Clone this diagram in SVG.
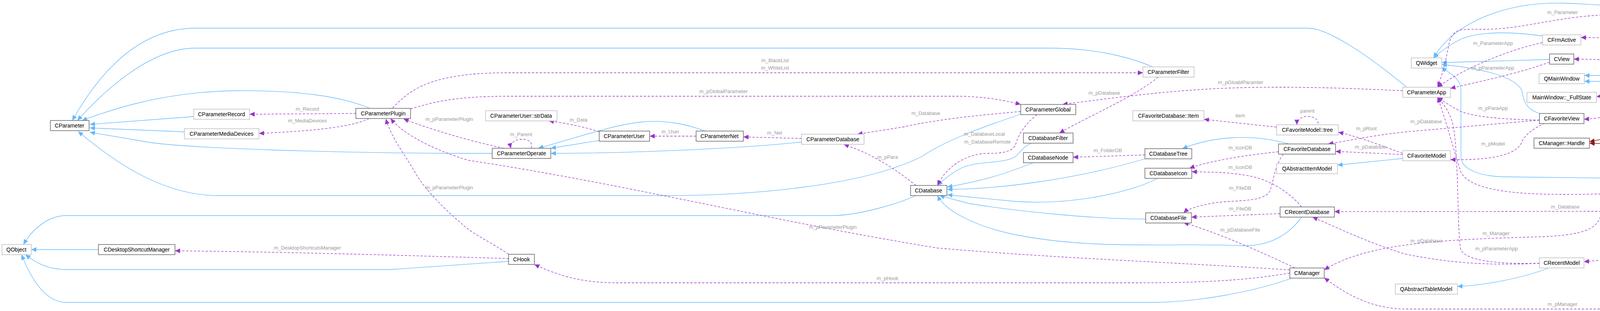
<svg xmlns="http://www.w3.org/2000/svg" width="4739" height="795" viewBox="0 0 4739 795">
<style>
.n rect{fill:#fff;stroke:#666;stroke-width:1.5}
.l rect{fill:#fff;stroke:#bfbfbf;stroke-width:1.5}
.m rect{fill:#999;stroke:#666;stroke-width:1.5}
text{font-family:"Liberation Sans",Arial,sans-serif;font-size:14px;text-anchor:middle;fill:#000}
.lb{fill:#9a9a9a;font-size:13px}
.inh{fill:none;stroke:#63b8ff;stroke-width:1.3;marker-end:url(#ab)}
.use{fill:none;stroke:#9a32cd;stroke-width:1.3;stroke-dasharray:6,4;marker-end:url(#ap)}
.red{fill:none;stroke:#8b1a1a;stroke-width:1.5;marker-end:url(#ar)}
</style>
<defs>
<marker id="ab" markerUnits="userSpaceOnUse" markerWidth="14" markerHeight="12" refX="13" refY="6" orient="auto"><path d="M0,0L13,6L0,12z" fill="#63b8ff"/></marker>
<marker id="ap" markerUnits="userSpaceOnUse" markerWidth="14" markerHeight="12" refX="13" refY="6" orient="auto"><path d="M0,0L13,6L0,12z" fill="#9a32cd"/></marker>
<marker id="ar" markerUnits="userSpaceOnUse" markerWidth="14" markerHeight="12" refX="13" refY="6" orient="auto"><path d="M0,0L13,6L0,12z" fill="#8b1a1a"/></marker>
</defs>
<rect width="4739" height="795" fill="#fff"/>
<g id="edges">
<path class="inh" d="M3600,222 C3500,140 3400,72 3349,72 L500,72 C330,72 230,230 185,308"/>
<path class="inh" d="M2951,171 C2890,145 2800,123 2690,123 L500,123 C380,123 260,240 198,308"/>
<path class="inh" d="M945,276 C880,250 780,230 600,232 C400,235 260,290 210,308"/>
<path class="inh" d="M496,298 L230,318"/>
<path class="inh" d="M472,337 L230,327"/>
<path class="inh" d="M1260,392 L1200,392 C900,392 450,380 360,360 L230,338"/>
<path class="inh" d="M2613,292 C2500,330 2420,360 2360,400 C2200,480 1900,500 1700,500 L560,500 C420,500 300,420 200,336"/>
<path class="inh" d="M2345,500 C2300,520 2200,551 2130,551 L170,551 C120,551 80,590 60,625"/>
<path class="inh" d="M252,638 L80,638"/>
<path class="inh" d="M1302,668 L1000,689 L170,689 C120,689 90,670 65,651"/>
<path class="inh" d="M3310,710 C3200,750 3050,773 2950,773 L170,773 C110,773 75,700 55,651"/>
<path class="inh" d="M1534,359 L1410,379"/>
<path class="inh" d="M1805,335 C1760,318 1700,305 1640,312 C1560,322 1500,345 1378,379"/>
<path class="inh" d="M2052,363 C1900,380 1600,392 1410,392"/>
<path class="inh" d="M2640,366 C2620,375 2615,385 2600,400 C2570,420 2500,410 2460,430 C2430,445 2410,465 2400,474"/>
<path class="inh" d="M2645,416 C2560,450 2500,465 2425,478"/>
<path class="inh" d="M2931,406 C2750,460 2550,484 2425,484"/>
<path class="inh" d="M2963,456 C2900,490 2750,525 2600,515 L2425,498"/>
<path class="inh" d="M2933,560 C2800,560 2600,540 2480,520 L2405,500"/>
<path class="inh" d="M3332,555 C3300,600 3250,630 3180,628 C3000,620 2800,640 2600,600 C2500,580 2420,540 2400,500"/>
<path class="inh" d="M3300,368 C3200,340 3100,350 3027,380"/>
<path class="inh" d="M3591,405 L3424,422"/>
<path class="inh" d="M3949,92 C3900,85 3800,75 3740,100 C3710,115 3690,130 3670,148"/>
<path class="inh" d="M3967,152 L3691,160"/>
<path class="inh" d="M3941,290 C3910,280 3900,260 3898,240 C3895,200 3800,175 3691,165"/>
<path class="inh" d="M4597,461 C4500,457 4300,455 4100,455 L3850,452 C3780,450 3740,430 3740,400 L3740,230 C3740,200 3710,185 3690,173"/>
<path class="inh" d="M4617,134 C4400,40 4200,15 4000,8 C3850,5 3720,60 3670,148"/>
<path class="inh" d="M4256,193 L4056,193"/>
<path class="inh" d="M4256,208 L4056,208"/>
<path class="inh" d="M3965,685 C3900,710 3800,730 3731,732"/>
<path class="red" d="M4302,213 C4260,300 4200,340 4069,362"/>
<path class="red" d="M4620,451 C4600,430 4550,410 4500,400 C4300,360 4150,370 4069,366"/>
<path class="use" d="M911,290 L639,292"/>
<path class="use" d="M945,303 C900,325 800,335 663,341"/>
<path class="use" d="M1005,276 C1050,230 1100,186 1300,186 L2926,186"/>
<path class="use" d="M1051,278 C1100,265 1150,246 1300,246 L2450,246 C2520,246 2580,258 2613,267"/>
<path class="use" d="M1290,379 C1200,360 1100,330 1033,304"/>
<path class="use" d="M3302,690 C3000,670 2700,660 2400,634 C2000,570 1600,470 1200,410 C1100,380 1030,340 1000,303"/>
<path class="use" d="M1302,650 C1260,620 1210,600 1180,570 C1120,520 1080,470 1068,450 C1040,400 1000,350 988,304"/>
<path class="use" d="M1360,379 C1365,362 1350,355 1335,356 C1315,357 1305,368 1308,379"/>
<path class="use" d="M1534,337 C1500,325 1450,315 1405,309"/>
<path class="use" d="M1782,348 L1663,348"/>
<path class="use" d="M2052,354 L1903,350"/>
<path class="use" d="M2613,285 C2500,295 2400,305 2310,325 L2195,343"/>
<path class="use" d="M2345,474 C2300,440 2250,400 2160,369"/>
<path class="use" d="M2655,293 C2620,320 2605,350 2600,370 C2590,390 2560,392 2530,392 C2470,392 2420,430 2400,474"/>
<path class="use" d="M2965,197 C2900,250 2800,290 2712,340"/>
<path class="use" d="M3591,232 C3450,225 3300,220 3150,225 C3000,230 2850,250 2720,267"/>
<path class="use" d="M2931,396 L2747,402"/>
<path class="use" d="M3273,388 C3200,395 3100,410 3045,430"/>
<path class="use" d="M3332,529 C3300,490 3250,460 3200,450 C3150,440 3100,440 3051,439"/>
<path class="use" d="M3285,394 C3260,430 3260,470 3250,490 C3230,520 3150,510 3100,520 C3060,528 3040,535 3030,544"/>
<path class="use" d="M3277,546 L3050,555"/>
<path class="use" d="M3315,685 C3200,630 3100,590 3030,569"/>
<path class="use" d="M3268,325 L3082,305"/>
<path class="use" d="M3374,316 C3378,300 3345,292 3330,302 C3322,307 3320,312 3320,319"/>
<path class="use" d="M3591,392 C3530,370 3480,350 3426,338"/>
<path class="use" d="M3591,395 L3419,387"/>
<path class="use" d="M3941,307 L3600,337 C3520,345 3450,360 3400,368"/>
<path class="use" d="M3941,307 C3850,305 3780,300 3740,285 C3710,270 3695,258 3680,249"/>
<path class="use" d="M3955,315 C3920,330 3900,350 3895,365 C3880,400 3800,410 3713,408"/>
<path class="use" d="M3949,109 C3850,130 3740,180 3680,223"/>
<path class="use" d="M3967,159 C3880,190 3780,210 3713,226"/>
<path class="use" d="M4305,188 C4290,130 4250,40 4130,38 C4000,38 3900,75 3800,75 C3740,75 3720,70 3710,110 C3700,160 3690,200 3680,222"/>
<path class="use" d="M4300,188 C4270,120 4200,95 4047,96"/>
<path class="use" d="M4280,188 C4220,160 4150,152 4029,151"/>
<path class="use" d="M4275,213 C4220,235 4150,240 4087,247"/>
<path class="use" d="M4290,213 C4250,270 4180,295 4055,305"/>
<path class="use" d="M4350,188 C4400,165 4480,160 4562,153"/>
<path class="use" d="M4630,160 C4590,200 4500,215 4363,210"/>
<path class="use" d="M4630,451 C4600,350 4570,270 4500,260 C4430,250 4380,230 4340,213"/>
<path class="use" d="M4320,213 C4350,290 4380,330 4450,345 C4560,365 4600,400 4630,451"/>
<path class="use" d="M4300,213 C4270,300 4240,360 4200,390 C4130,440 4100,470 4100,530 C4100,580 4070,600 3950,605 C3700,612 3500,620 3390,690"/>
<path class="use" d="M4597,468 C4400,480 4200,497 4000,497 C3850,497 3760,480 3740,440 C3720,380 3700,300 3680,249"/>
<path class="use" d="M4610,477 C4550,510 4450,540 4300,540 L3416,541"/>
<path class="use" d="M4640,477 C4550,560 4400,640 4055,669"/>
<path class="use" d="M4640,477 C4600,600 4500,790 4300,790 L3600,790 C3500,790 3430,740 3390,710"/>
<path class="use" d="M3941,673 C3800,680 3700,670 3600,650 C3500,620 3420,580 3360,555"/>
<path class="use" d="M3941,673 C3850,675 3760,670 3740,640 C3730,600 3735,400 3720,320 C3710,280 3690,260 3680,249"/>
<path class="use" d="M3302,698 C3200,715 3100,723 2900,723 L1580,723 C1480,723 1420,700 1368,676"/>
<path class="use" d="M1302,661 C1100,655 800,645 448,641"/>
<g class="lb">
<text class="lb" x="787" y="283">m_Record</text>
<text class="lb" x="787" y="313">m_MediaDevices</text>
<text class="lb" x="1984" y="159">m_BlackList</text>
<text class="lb" x="1984" y="178">m_WhiteList</text>
<text class="lb" x="1852" y="238">m_pGlobalParameter</text>
<text class="lb" x="1150" y="309">m_pParameterPlugin</text>
<text class="lb" x="2132" y="585">m_pParameterPlugin</text>
<text class="lb" x="1150" y="484">m_pParameterPlugin</text>
<text class="lb" x="1334" y="348">m_Parent</text>
<text class="lb" x="1481" y="311">m_Data</text>
<text class="lb" x="1716" y="341">m_User</text>
<text class="lb" x="1983" y="344">m_Net</text>
<text class="lb" x="2370" y="294">m_Database</text>
<text class="lb" x="2272" y="406">m_pPara</text>
<text class="lb" x="2520" y="347">m_DatabaseLocal</text>
<text class="lb" x="2528" y="367">m_DatabaseRemote</text>
<text class="lb" x="2827" y="242">m_pDatabase</text>
<text class="lb" x="3176" y="215">m_pGloablParamter</text>
<text class="lb" x="2836" y="389">m_FolderDB</text>
<text class="lb" x="3175" y="382">m_IconDB</text>
<text class="lb" x="3175" y="432">m_IconDB</text>
<text class="lb" x="3175" y="485">m_FileDB</text>
<text class="lb" x="3175" y="538">m_FileDB</text>
<text class="lb" x="3175" y="592">m_pDatabaseFile</text>
<text class="lb" x="3175" y="300">item</text>
<text class="lb" x="3347" y="288">parent</text>
<text class="lb" x="3498" y="333">m_pRoot</text>
<text class="lb" x="3509" y="380">m_pDatabase</text>
<text class="lb" x="3651" y="315">m_pDatabase</text>
<text class="lb" x="3822" y="281">m_pParaApp</text>
<text class="lb" x="3822" y="372">m_pModel</text>
<text class="lb" x="3822" y="115">m_ParameterApp</text>
<text class="lb" x="3822" y="178">m_pParameterApp</text>
<text class="lb" x="4000" y="36">m_Parameter</text>
<text class="lb" x="4172" y="91">m_pFrmActive</text>
<text class="lb" x="4171" y="146">m_pView</text>
<text class="lb" x="4171" y="221">m_FullState</text>
<text class="lb" x="4171" y="266">m_pFavoriteView</text>
<text class="lb" x="4462" y="147">m_pFullScreenToolBar</text>
<text class="lb" x="4462" y="197">m_pMain</text>
<text class="lb" x="4462" y="235">m_pMainWindow</text>
<text class="lb" x="4462" y="302">m_pRecent</text>
<text class="lb" x="3830" y="601">m_Manager</text>
<text class="lb" x="4181" y="481">m_ParameterApp</text>
<text class="lb" x="4007" y="533">m_Database</text>
<text class="lb" x="4287" y="616">m_pModel</text>
<text class="lb" x="4000" y="782">m_pManager</text>
<text class="lb" x="3651" y="620">m_pDatabase</text>
<text class="lb" x="3831" y="640">m_pParameterApp</text>
<text class="lb" x="2272" y="716">m_pHook</text>
<text class="lb" x="787" y="638">m_DesktopShortcutsManager</text>
</g>
</g>
<g id="CParameter" class="n"><rect x="129" y="308" width="99" height="26"/><text x="178" y="326">CParameter</text></g>
<g id="CParameterRecord" class="l"><rect x="496" y="279" width="143" height="26"/><text x="567" y="297">CParameterRecord</text></g>
<g id="CParameterMediaDevices" class="l"><rect x="472" y="329" width="191" height="26"/><text x="567" y="347">CParameterMediaDevices</text></g>
<g id="CParameterPlugin" class="n"><rect x="911" y="277" width="140" height="26"/><text x="981" y="295">CParameterPlugin</text></g>
<g id="QObject" class="l"><rect x="5" y="625" width="75" height="26"/><text x="42" y="643">QObject</text></g>
<g id="CDesktopShortcutManager" class="n"><rect x="252" y="625" width="196" height="26"/><text x="350" y="643">CDesktopShortcutManager</text></g>
<g id="CParameterUser_strData" class="l"><rect x="1243" y="283" width="183" height="26"/><text x="1334" y="301">CParameterUser::strData</text></g>
<g id="CParameterOperate" class="n"><rect x="1260" y="379" width="150" height="26"/><text x="1335" y="397">CParameterOperate</text></g>
<g id="CParameterUser" class="n"><rect x="1534" y="335" width="129" height="26"/><text x="1598" y="353">CParameterUser</text></g>
<g id="CParameterNet" class="n"><rect x="1782" y="335" width="121" height="26"/><text x="1842" y="353">CParameterNet</text></g>
<g id="CParameterDatabase" class="l"><rect x="2052" y="343" width="160" height="26"/><text x="2132" y="361">CParameterDatabase</text></g>
<g id="CDatabase" class="n"><rect x="2331" y="474" width="93" height="26"/><text x="2377" y="492">CDatabase</text></g>
<g id="CHook" class="n"><rect x="1302" y="650" width="66" height="26"/><text x="1335" y="668">CHook</text></g>
<g id="CParameterFilter" class="l"><rect x="2926" y="171" width="131" height="26"/><text x="2991" y="189">CParameterFilter</text></g>
<g id="CParameterGlobal" class="n"><rect x="2613" y="267" width="141" height="26"/><text x="2683" y="285">CParameterGlobal</text></g>
<g id="CDatabaseFilter" class="n"><rect x="2620" y="340" width="127" height="26"/><text x="2683" y="358">CDatabaseFilter</text></g>
<g id="CDatabaseNode" class="n"><rect x="2620" y="390" width="127" height="26"/><text x="2683" y="408">CDatabaseNode</text></g>
<g id="CDatabaseTree" class="n"><rect x="2931" y="380" width="120" height="26"/><text x="2991" y="398">CDatabaseTree</text></g>
<g id="CDatabaseIcon" class="n"><rect x="2931" y="430" width="120" height="26"/><text x="2991" y="448">CDatabaseIcon</text></g>
<g id="CDatabaseFile" class="n"><rect x="2933" y="544" width="117" height="26"/><text x="2991" y="562">CDatabaseFile</text></g>
<g id="CFavoriteDatabase_Item" class="l"><rect x="2900" y="283" width="182" height="26"/><text x="2991" y="301">CFavoriteDatabase::Item</text></g>
<g id="CFavoriteModel_tree" class="l"><rect x="3268" y="319" width="158" height="26"/><text x="3347" y="337">CFavoriteModel::tree</text></g>
<g id="CFavoriteDatabase" class="n"><rect x="3273" y="368" width="146" height="26"/><text x="3346" y="386">CFavoriteDatabase</text></g>
<g id="QAbstractItemModel" class="l"><rect x="3268" y="418" width="156" height="26"/><text x="3346" y="436">QAbstractItemModel</text></g>
<g id="CRecentDatabase" class="n"><rect x="3277" y="529" width="139" height="26"/><text x="3346" y="547">CRecentDatabase</text></g>
<g id="CManager" class="n"><rect x="3302" y="685" width="88" height="26"/><text x="3346" y="703">CManager</text></g>
<g id="QWidget" class="l"><rect x="3613" y="148" width="78" height="26"/><text x="3652" y="166">QWidget</text></g>
<g id="CParameterApp" class="l"><rect x="3591" y="223" width="122" height="26"/><text x="3652" y="241">CParameterApp</text></g>
<g id="CFavoriteModel" class="l"><rect x="3591" y="385" width="122" height="26"/><text x="3652" y="403">CFavoriteModel</text></g>
<g id="QAbstractTableModel" class="l"><rect x="3572" y="726" width="159" height="26"/><text x="3651" y="744">QAbstractTableModel</text></g>
<g id="CFrmActive" class="l"><rect x="3949" y="89" width="98" height="26"/><text x="3998" y="107">CFrmActive</text></g>
<g id="CView" class="n"><rect x="3967" y="138" width="62" height="26"/><text x="3998" y="156">CView</text></g>
<g id="QMainWindow" class="l"><rect x="3940" y="188" width="116" height="26"/><text x="3998" y="206">QMainWindow</text></g>
<g id="MainWindow_FullState" class="l"><rect x="3909" y="236" width="178" height="26"/><text x="3998" y="254">MainWindow::_FullState</text></g>
<g id="CFavoriteView" class="n"><rect x="3941" y="290" width="114" height="26"/><text x="3998" y="308">CFavoriteView</text></g>
<g id="CManager_Handle" class="n"><rect x="3927" y="353" width="142" height="26"/><text x="3998" y="371">CManager::Handle</text></g>
<g id="CRecentModel" class="l"><rect x="3941" y="659" width="114" height="26"/><text x="3998" y="677">CRecentModel</text></g>
<g id="MainWindow" class="m"><rect x="4256" y="188" width="107" height="26"/><text x="4309" y="206">MainWindow</text></g>
<g id="CFrmFullScreenToolBar" class="l"><rect x="4562" y="134" width="171" height="26"/><text x="4647" y="152">CFrmFullScreenToolBar</text></g>
<g id="CFrmRecent" class="n"><rect x="4597" y="451" width="101" height="26"/><text x="4647" y="469">CFrmRecent</text></g>
</svg>
